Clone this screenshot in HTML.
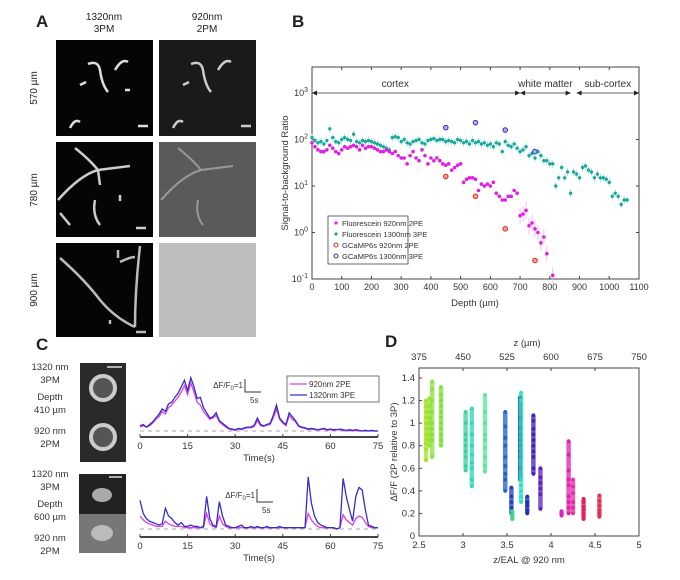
<!DOCTYPE html>
<html><head><meta charset="utf-8"><style>
html,body{margin:0;padding:0;background:#fff;}
svg{display:block;font-family:"Liberation Sans",sans-serif;}
</style></head><body>
<svg id="fig" width="680" height="580" viewBox="0 0 680 580" xmlns="http://www.w3.org/2000/svg">
<rect width="680" height="580" fill="#fff"/>
<g font-size="10" fill="#222">
<text x="36" y="27" font-size="17" font-weight="bold">A</text>
<text x="104" y="20" text-anchor="middle">1320nm</text>
<text x="104" y="32" text-anchor="middle">3PM</text>
<text x="207" y="20" text-anchor="middle">920nm</text>
<text x="207" y="32" text-anchor="middle">2PM</text>
<text transform="translate(37,88) rotate(-90)" text-anchor="middle">570 µm</text>
<text transform="translate(37,190) rotate(-90)" text-anchor="middle">780 µm</text>
<text transform="translate(37,290) rotate(-90)" text-anchor="middle">900 µm</text>
<g><rect x="56" y="40" width="97" height="96" fill="#050505"/>
<path d="M88 64 Q98 60 100 70 Q102 85 108 92 M115 70 Q122 58 128 62 M70 128 q5-10 10-6 M138 126 h10 M80 85 l6 -3 M125 90 l5 0" stroke="#ddd" stroke-width="2.5" fill="none"/></g>
<g><rect x="159" y="40" width="97" height="96" fill="#1a1a1a"/>
<path d="M191 64 Q201 60 203 70 Q205 85 211 92 M218 70 Q225 58 231 62 M173 128 q5-10 10-6 M241 126 h10 M183 85 l6 -3" stroke="#ccc" stroke-width="2.5" fill="none"/></g>
<g><rect x="56" y="142" width="97" height="95" fill="#050505"/>
<path d="M58 200 Q80 175 98 170 L130 166 M75 148 Q90 160 98 170 M98 170 l2 15 M60 213 l10 12 M95 200 Q92 215 100 225 M120 195 v6 M136 228 h10" stroke="#ccc" stroke-width="2.5" fill="none"/></g>
<g><rect x="159" y="142" width="97" height="95" fill="#5a5a5a"/>
<path d="M161 200 Q183 175 201 170 L233 166 M178 148 Q193 160 201 170 M198 200 Q195 215 203 225" stroke="#999" stroke-width="2" fill="none"/></g>
<g><rect x="56" y="243" width="97" height="94" fill="#050505"/>
<path d="M60 258 Q85 280 100 300 Q115 318 135 327 M140 246 Q135 290 135 327 M120 262 q10-5 15 -5 M118 250 v8 M136 332 h10 M110 320 v4" stroke="#bbb" stroke-width="2.5" fill="none"/></g>
<rect x="159" y="243" width="97" height="94" fill="#bdbdbd"/>
</g>

<g id="panelB" font-size="9.5" fill="#333">
<text x="292" y="27" font-size="17" font-weight="bold" fill="#222">B</text>
<text transform="translate(288,173) rotate(-90)" text-anchor="middle">Signal-to-background Ratio</text>
<text x="475" y="306" text-anchor="middle">Depth (µm)</text>
</g>

<g id="panelC" font-size="9.5" fill="#333">
<text x="36" y="350" font-size="17" font-weight="bold" fill="#222">C</text>
<g text-anchor="middle">
<text x="50" y="370">1320 nm</text><text x="50" y="383">3PM</text><text x="50" y="400">Depth</text><text x="50" y="413">410 µm</text><text x="50" y="434">920 nm</text><text x="50" y="447">2PM</text></g>
<g text-anchor="middle">
<text x="50" y="477">1320 nm</text><text x="50" y="490">3PM</text><text x="50" y="507">Depth</text><text x="50" y="520">600 µm</text><text x="50" y="541">920 nm</text><text x="50" y="554">2PM</text></g>
<g><rect x="80" y="363" width="46" height="99" fill="#2a2a2a"/>
<circle cx="103" cy="388" r="12" fill="#555" stroke="#ccc" stroke-width="4"/><circle cx="103" cy="437" r="12" fill="#555" stroke="#ccc" stroke-width="4"/>
<line x1="107" y1="367" x2="122" y2="367" stroke="#ddd" stroke-width="1.5"/></g>
<g><rect x="79" y="474" width="47" height="40" fill="#222"/><rect x="79" y="514" width="47" height="39" fill="#777"/>
<ellipse cx="102" cy="495" rx="10" ry="7" fill="#aaa"/><ellipse cx="102" cy="533" rx="11" ry="8" fill="#bbb"/>
<line x1="109" y1="477" x2="122" y2="477" stroke="#ddd" stroke-width="1.5"/></g>
</g>

<g id="panelD" font-size="9.5" fill="#333">
<text x="385" y="347" font-size="17" font-weight="bold" fill="#222">D</text>
<text x="527" y="346" text-anchor="middle">z (µm)</text>
<text x="529" y="563" text-anchor="middle">z/EAL @ 920 nm</text>
<text transform="translate(397,452) rotate(-90)" text-anchor="middle">ΔF/F (2P relative to 3P)</text>
</g>
</svg>
<script>
const NS="http://www.w3.org/2000/svg";
function mk(tag,attrs,parent){const e=document.createElementNS(NS,tag);for(const k in attrs)e.setAttribute(k,attrs[k]);parent.appendChild(e);return e;}

const depthCyan=[0,10,20,30,40,50,60,70,80,90,100,110,120,130,140,150,160,170,180,190,200,210,220,230,240,250,260,270,280,290,300,310,320,330,340,350,360,370,380,390,400,410,420,430,440,450,460,470,480,490,500,510,520,530,540,550,560,570,580,590,600,610,620,630,640,650,660,670,680,690,700,710,720,730,740,750,760,770,780,790,800,810,820,830,840,850,860,870,880,890,900,910,920,930,940,950,960,970,980,990,1000,1010,1020,1030,1040,1050,1060];
const sbrCyan=[110,95,85,90,80,95,170,110,90,85,100,110,100,95,130,90,85,95,90,95,90,85,80,75,70,65,60,110,115,110,90,100,85,80,90,95,100,85,80,95,100,105,95,100,100,90,95,90,85,100,95,85,90,80,95,85,90,80,85,75,80,70,85,80,55,90,75,70,80,65,55,60,70,45,50,40,55,45,35,35,30,30,10,15,25,15,20,7,20,18,15,25,27,22,20,15,18,15,15,14,12,6,7,6,4,5,5];
const depthMag=[0,10,20,30,40,50,60,70,80,90,100,110,120,130,140,150,160,170,180,190,200,210,220,230,240,250,260,270,280,290,300,310,320,330,340,350,360,370,380,390,400,410,420,430,440,450,460,470,480,490,500,510,520,530,540,550,560,570,580,590,600,610,620,630,640,650,660,670,680,690,700,710,720,730,740,750,760,770,780,790,810];
const sbrMag=[85,70,60,55,55,60,75,65,55,50,60,70,65,70,75,70,60,75,65,70,70,65,60,55,55,60,55,50,55,45,40,40,30,45,55,40,35,60,45,30,40,35,40,35,30,28,30,22,25,28,30,12,14,15,15,14,8,11,10,11,10,12,7,6,5,5,6,6,8,7,2.3,2.5,3,1.4,1.6,1.2,1.0,0.6,0.8,0.35,0.12];
const gc2Depth=[450,550,650,750];
const gc2Val=[16,6,1.2,0.25];
const gc3Depth=[450,550,650,750];
const gc3Val=[180,230,160,55];
const bXTicks=[0,100,200,300,400,500,600,700,800,900,1000,1100];
const bYTickExp=[-1,0,1,2,3];

(function(){
 const g=document.getElementById('panelB');
 const X0=312,X1=639,Y0=67,Y1=279;
 const xs=d=>X0+(d/1100)*(X1-X0);
 const ys=v=>Y1-(Math.log10(v)+1)*46.5;
 const box=mk('rect',{x:X0,y:Y0,width:X1-X0,height:Y1-Y0,fill:'none',stroke:'#444','stroke-width':1},g);
 
 
 bXTicks.forEach(t=>{const x=xs(t);
  mk('line',{x1:x,x2:x,y1:Y1,y2:Y1-3,stroke:'#444'},g);mk('line',{x1:x,x2:x,y1:Y0,y2:Y0+3,stroke:'#444'},g);
  const tx=mk('text',{x:x,y:Y1+11,'text-anchor':'middle','font-size':9},g);tx.textContent=t;
  
  });
 bYTickExp.forEach(e=>{const y=ys(Math.pow(10,e));
  mk('line',{x1:X0,x2:X0+3,y1:y,y2:y,stroke:'#444'},g);mk('line',{x1:X1,x2:X1-3,y1:y,y2:y,stroke:'#444'},g);
  const tx=mk('text',{x:X0-4,y:y+3,'text-anchor':'end','font-size':9},g);tx.innerHTML='10<tspan dy="-4" font-size="7">'+e+'</tspan>';
  
  });
 const regions=[['cortex',0,700],['white matter',700,870],['sub-cortex',890,1100]];
 const ay=ys(1000);
 regions.forEach(r=>{const a=xs(r[1]),b=xs(r[2]);
  const ln=mk('line',{x1:a,x2:b,y1:ay,y2:ay,stroke:'#333','stroke-width':0.8},g);
  
  
  mk('path',{d:`M${a} ${ay} l5 -2.5 v5 z M${b} ${ay} l-5 -2.5 v5 z`,fill:'#222'},g);
  const tx=mk('text',{x:(r[0]==='cortex'?xs(280):(a+b)/2),y:ay-6,'text-anchor':'middle','font-size':10},g);tx.textContent=r[0];
  
  });
 depthCyan.forEach((d,i)=>{const x=xs(d),y=ys(sbrCyan[i]);
  mk('line',{x1:x,x2:x,y1:y-4,y2:y+4,stroke:'#8fe0da','stroke-width':0.7},g);
  const c=mk('circle',{cx:x,cy:y,r:1.7,fill:'#1aa89a'},g);
  
  });
 depthMag.forEach((d,i)=>{const x=xs(d),y=ys(sbrMag[i]);
  if(d>690)mk('line',{x1:x,x2:x,y1:y-8,y2:y+8,stroke:'#f0a0f0','stroke-width':0.7},g);
  const c=mk('circle',{cx:x,cy:y,r:1.8,fill:'#e020e0'},g);
  
  });
 gc2Depth.forEach((d,i)=>{const c=mk('circle',{cx:xs(d),cy:ys(gc2Val[i]),r:2.3,fill:'#f0a090',stroke:'#d03020','stroke-width':1},g);
  
  });
 gc3Depth.forEach((d,i)=>{const c=mk('circle',{cx:xs(d),cy:ys(gc3Val[i]),r:2.3,fill:'#b0b0f0',stroke:'#3030b0','stroke-width':1},g);
  
  });
 const lg=mk('g',{},g);
 
 
 mk('rect',{x:328,y:216,width:80,height:48,fill:'#fff',stroke:'#444','stroke-width':0.8},lg);
 const items=[['Fluorescein 920nm 2PE','#e020e0','dot'],['Fluorescein 1300nm 3PE','#1aa89a','dot'],['GCaMP6s 920nm 2PE','#d03020','ring'],['GCaMP6s 1300nm 3PE','#3030b0','ring']];
 items.forEach((it,i)=>{const y=226+i*11;
  if(it[2]==='dot')mk('circle',{cx:336,cy:y-3,r:1.6,fill:it[1]},lg);else mk('circle',{cx:336,cy:y-3,r:2,fill:'none',stroke:it[1]},lg);
  const t=mk('text',{x:342,y:y,'font-size':7.6},lg);t.textContent=it[0];
  
  });
})();

const timeS=[0,1,2,3,4,5,6,7,8,9,10,11,12,13,14,15,16,17,18,19,20,21,22,23,24,25,26,27,28,29,30,31,32,33,34,35,36,37,38,39,40,41,42,43,44,45,46,47,48,49,50,51,52,53,54,55,56,57,58,59,60,61,62,63,64,65,66,67,68,69,70,71,72,73,74,75];
const top3P=[0.4,0.5,0.3,0.5,0.7,1.0,1.3,1.7,1.5,2.1,2.2,2.6,2.9,3.4,3.9,3.1,4.1,3.4,2.5,2.6,1.8,1.4,1.0,1.1,1.4,0.8,0.6,0.4,0.2,0.15,0.1,0.2,0.15,0.25,0.3,0.3,0.45,1.0,0.5,0.4,0.5,0.6,1.2,2.0,1.0,0.7,0.5,1.4,1.1,0.8,0.4,0.3,0.25,0.15,0.2,0.15,0.1,0.15,0.2,0.1,0.15,0.1,0.1,0.15,0.1,0.05,0.1,0.05,0.1,0.05,0.0,0.05,0.0,0.05,0.0,0.0];
const top2P=[0.3,0.4,0.3,0.4,0.6,0.9,1.1,1.5,1.3,1.8,2.0,2.3,2.6,3.0,3.5,2.8,3.7,3.0,2.2,2.0,1.5,1.2,0.9,1.0,1.2,0.7,0.5,0.3,0.15,0.1,0.05,0.15,0.1,0.2,0.25,0.25,0.35,0.8,0.4,0.35,0.45,0.5,1.0,1.7,0.9,0.6,0.4,1.2,0.9,0.7,0.35,0.25,0.2,0.1,0.15,0.1,0.1,0.1,0.15,0.05,0.1,0.05,0.1,0.1,0.05,0.0,0.05,0.0,0.05,0.0,0.0,0.0,0.0,0.0,0.0,0.0];
const bot3P=[2.2,1.2,0.8,0.6,0.5,0.4,0.3,0.4,1.6,1.0,0.8,0.5,0.3,0.5,0.2,0.2,0.3,0.2,0.2,0.1,0.2,2.5,0.8,0.3,0.2,2.1,1.0,0.3,0.2,0.1,0.1,0.2,0.3,0.1,0.1,0.2,0.1,0.2,0.1,0.1,0.2,0.1,0.1,0.1,0.2,0.1,0.1,0.1,0.1,0.1,0.1,0.1,0.1,4.0,2.0,1.0,0.5,0.3,0.2,0.1,0.1,0.1,0.0,0.1,3.9,2.5,1.5,0.6,2.5,3.2,3.0,1.5,0.3,0.2,0.1,0.1];
const bot2P=[1.0,0.7,0.5,0.4,0.3,0.2,0.2,0.2,0.6,0.4,0.3,0.2,0.2,0.2,0.1,0.1,0.1,0.1,0.1,0.1,0.1,1.2,0.4,0.2,0.1,1.0,0.4,0.2,0.1,0.1,0.1,0.1,0.1,0.1,0.1,0.1,0.1,0.1,0.1,0.1,0.1,0.1,0.1,0.1,0.1,0.1,0.1,0.1,0.1,0.1,0.1,0.1,0.1,1.2,0.7,0.4,0.2,0.1,0.1,0.1,0.1,0.1,0.0,0.1,1.1,0.7,0.5,0.3,0.8,1.0,0.9,0.5,0.2,0.1,0.1,0.1];
const cTicks=[0,15,30,45,60,75];

(function(){
 const g=document.getElementById('panelC');
 const X0=140,X1=378,PX=13;
 const xs=t=>X0+t/75*(X1-X0);
 function trace(base,axisY,s2,s3,name,sbx,sby){
  mk('line',{x1:X0,x2:X1,y1:base,y2:base,stroke:'#aaa','stroke-dasharray':'4 4','stroke-width':1},g);
  const p2=mk('polyline',{points:timeS.map((t,i)=>xs(t)+','+(base-s2[i]*PX)).join(' '),fill:'none',stroke:'#e040e0','stroke-width':1.3},g);
  
  
  const p3=mk('polyline',{points:timeS.map((t,i)=>xs(t)+','+(base-s3[i]*PX)).join(' '),fill:'none',stroke:'#3030c8','stroke-width':1.3},g);
  
  
  const ax=mk('line',{x1:X0,x2:X1,y1:axisY,y2:axisY,stroke:'#444','stroke-width':2},g);
  
  
  cTicks.forEach(t=>{mk('line',{x1:xs(t),x2:xs(t),y1:axisY,y2:axisY-3,stroke:'#444'},g);
   const tx=mk('text',{x:xs(t),y:axisY+12,'text-anchor':'middle','font-size':9.5},g);tx.textContent=t;
   
   });
  const tt=mk('text',{x:259,y:axisY+24,'text-anchor':'middle','font-size':9.5},g);tt.textContent='Time(s)';
  
  
  const sb=mk('g',{},g);
  
  
  mk('path',{d:`M${sbx} ${sby-PX} V${sby} H${sbx+16}`,fill:'none',stroke:'#333','stroke-width':1},sb);
  const l=mk('text',{x:sbx-2,y:sby-4,'text-anchor':'end','font-size':8},sb);l.innerHTML='ΔF/F<tspan font-size="6" dy="2">0</tspan><tspan dy="-2">=1</tspan>';
  const s=mk('text',{x:sbx+5,y:sby+11,'font-size':8},sb);s.textContent='5s';
 }
 trace(431,437,top2P,top3P,'top',245,392);
 trace(529,537,bot2P,bot3P,'bottom',257,502);
 const lg=mk('g',{},g);
 
 
 mk('rect',{x:287,y:376,width:92,height:26,fill:'#fff',stroke:'#555','stroke-width':0.8},lg);
 mk('line',{x1:290,x2:307,y1:384,y2:384,stroke:'#e040e0','stroke-width':1.3},lg);
 mk('line',{x1:290,x2:307,y1:395,y2:395,stroke:'#3030c8','stroke-width':1.3},lg);
 const a=mk('text',{x:309,y:387,'font-size':8},lg);a.textContent='920nm 2PE';
 
 
 const b=mk('text',{x:309,y:398,'font-size':8},lg);b.textContent='1320nm 3PE';
 
 
})();

const colX=[2.58,2.62,2.65,2.75,3.03,3.10,3.25,3.48,3.55,3.56,3.65,3.66,3.73,3.80,3.88,4.12,4.20,4.25,4.37,4.55];
const colColor=['#a6e22a','#9ee030','#8ee040','#7ee03a','#3cd09a','#2ed8b8','#60e0a0','#2060d0','#2040c0','#40d880','#1030a0','#30e0c0','#2030b0','#4020c0','#6020c0','#e020c0','#e020b0','#e030a0','#e0205a','#e03050'];
const colVals=[
[0.82,0.86,0.9,0.95,1.0,1.05,1.1,1.15,1.2,0.77,0.67],
[0.85,0.9,0.95,1.0,1.05,1.1,1.15,1.22,0.8],
[0.7,0.85,0.9,0.95,1.0,1.1,1.2,1.3,1.37],
[0.8,0.85,0.9,0.95,1.0,1.05,1.1,1.15,1.2,1.25,1.32],
[0.58,0.62,0.7,0.75,0.8,0.85,0.9,1.0,1.1],
[0.44,0.5,0.6,0.65,0.72,0.8,0.9,1.0,1.13],
[0.57,0.62,0.7,0.78,0.85,0.9,1.0,1.1,1.25],
[0.4,0.5,0.55,0.62,0.7,0.8,0.87,0.97,1.1],
[0.2,0.25,0.3,0.35,0.43],
[0.15,0.18,0.22],
[0.5,0.6,0.7,0.75,0.8,0.85,0.9,0.95,1.05,1.23],
[0.3,0.35,0.4,0.45,0.5,1.2,1.27],
[0.2,0.23,0.27,0.3,0.35],
[0.55,0.6,0.7,0.75,0.8,0.85,0.9,0.95,1.02,1.07],
[0.24,0.37,0.42,0.47,0.52,0.6],
[0.18,0.2,0.22],
[0.2,0.25,0.3,0.35,0.45,0.5,0.58,0.72,0.84],
[0.2,0.25,0.3,0.38,0.44,0.5],
[0.15,0.18,0.2,0.23,0.26,0.3,0.33],
[0.17,0.2,0.23,0.27,0.31,0.36]];
const dXTicks=[2.5,3,3.5,4,4.5,5];
const dYTicks=[0,0.2,0.4,0.6,0.8,1,1.2,1.4];
const dTopTicks=[375,450,525,600,675,750];

(function(){
 const g=document.getElementById('panelD');
 const X0=419,X1=639,Y0=368,Y1=536;
 const xs=v=>X0+(v-2.5)/2.5*(X1-X0);
 const ys=v=>Y1-v/1.4*(Y1-378);
 const zs=z=>X0+(z-375)/375*(X1-X0);
 const box=mk('rect',{x:X0,y:Y0,width:X1-X0,height:Y1-Y0,fill:'none',stroke:'#444','stroke-width':1},g);
 
 
 dXTicks.forEach(t=>{mk('line',{x1:xs(t),x2:xs(t),y1:Y1,y2:Y1-3,stroke:'#444'},g);
  const tx=mk('text',{x:xs(t),y:Y1+12,'text-anchor':'middle','font-size':9.5},g);tx.textContent=t;
  
  });
 dTopTicks.forEach(t=>{mk('line',{x1:zs(t),x2:zs(t),y1:Y0,y2:Y0+3,stroke:'#444'},g);
  const tx=mk('text',{x:zs(t),y:Y0-8,'text-anchor':'middle','font-size':9.5},g);tx.textContent=t;
  
  });
 dYTicks.forEach(t=>{mk('line',{x1:X0,x2:X0+3,y1:ys(t),y2:ys(t),stroke:'#444'},g);
  const tx=mk('text',{x:X0-4,y:ys(t)+3,'text-anchor':'end','font-size':9.5},g);tx.textContent=t;
  
  });
 colX.forEach((cx,i)=>{
  const vals=colVals[i];const lo=Math.min(...vals),hi=Math.max(...vals);
  const band=mk('line',{x1:xs(cx),x2:xs(cx),y1:ys(lo),y2:ys(hi),stroke:colColor[i],'stroke-width':4.5,opacity:0.75},g);
  
  
  vals.forEach(v=>{const c=mk('circle',{cx:xs(cx),cy:ys(v),r:1.9,fill:colColor[i]},g);
   
   });
 });
})();
</script>
</body></html>
